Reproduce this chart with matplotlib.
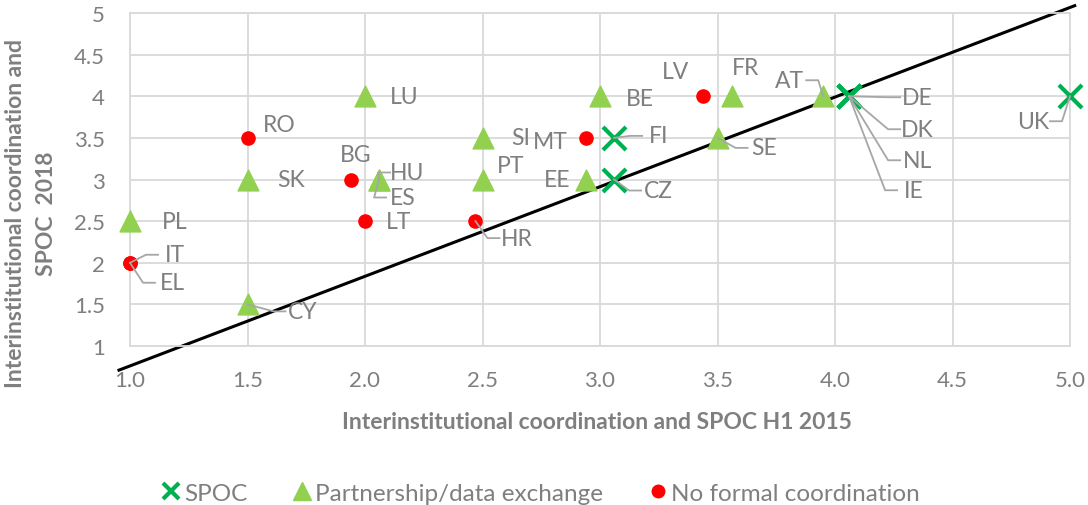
import matplotlib
matplotlib.use("Agg")
import matplotlib.pyplot as plt
import matplotlib.transforms as mtransforms
from matplotlib.lines import Line2D

plt.rcParams['font.family'] = ['Lato', 'DejaVu Sans']

# ---- data: (label, x 2015, y 2018)
spoc_labels = ["FI", "CZ", "DE", "DK", "NL", "IE", "UK"]
spoc_x = [3.06, 3.06, 4.06, 4.06, 4.06, 4.06, 5.0]
spoc_y = [3.5, 3.0, 4.0, 4.0, 4.0, 4.0, 4.0]

part_labels = ["PL", "SK", "CY", "LU", "HU", "ES", "SI", "PT", "BE", "EE", "FR", "AT", "SE"]
part_x = [1.0, 1.5, 1.5, 2.0, 2.06, 2.06, 2.5, 2.5, 3.0, 2.94, 3.56, 3.95, 3.5]
part_y = [2.5, 3.0, 1.5, 4.0, 3.0, 3.0, 3.5, 3.0, 4.0, 3.0, 4.0, 4.0, 3.5]

nofc_labels = ["RO", "BG", "LT", "HR", "MT", "LV", "IT", "EL"]
nofc_x = [1.5, 1.94, 2.0, 2.47, 2.94, 3.44, 1.0, 1.0]
nofc_y = [3.5, 3.0, 2.5, 2.5, 3.5, 4.0, 2.0, 2.0]

# reference line endpoints
line_x = [0.953, 5.02]
line_y = [0.71, 5.088]

x_ticks = [1.0, 1.5, 2.0, 2.5, 3.0, 3.5, 4.0, 4.5, 5.0]
y_ticks = [1, 1.5, 2, 2.5, 3, 3.5, 4, 4.5, 5]

# label offsets in pixels (dx, dy) and whether a leader line is drawn
label_pos = {
    "RO": (32, 13, False), "SK": (44, 0, False), "PL": (45, 0, False),
    "IT": (45, 8, True), "EL": (42, -20, True), "CY": (55, -7, True),
    "LU": (39, 0, False), "BG": (5, 25, False), "HU": (28, 7, True),
    "ES": (24, -18, True), "LT": (34, 0, False), "SI": (38, 0, False),
    "MT": (-36, -4, False), "PT": (28, 14, False), "HR": (41, -17, True),
    "EE": (-29, 0, False), "FI": (45, 2, True), "CZ": (44, -11, True),
    "BE": (40, -2, False), "LV": (-28, 25, False), "FR": (14, 29, False),
    "AT": (-34, 16, True), "SE": (47, -10, True), "DE": (68, -1, True),
    "DK": (68, -33, True), "NL": (68, -64, True), "IE": (65, -94, True),
    "UK": (-37, -25, True),
}

GRAY = "#7f7f7f"
GRID = "#d9d9d9"

fig = plt.figure(figsize=(10.88, 5.06), dpi=100)
ax = fig.add_axes([130 / 1088, 1 - 347 / 506, 940 / 1088, 333 / 506])

ax.set_xlim(1.0, 5.0)
ax.set_ylim(1, 5)
ax.set_xticks(x_ticks)
ax.set_xticklabels([f"{v:.1f}" for v in x_ticks])
ax.set_yticks(y_ticks)
ax.set_yticklabels([f"{v:g}" for v in y_ticks])
ax.grid(True, color=GRID, linewidth=1.3)
ax.set_axisbelow(True)
for s in ax.spines.values():
    s.set_color(GRID)
    s.set_linewidth(1.3)
ax.tick_params(length=0, labelsize=16, colors=GRAY)
ax.tick_params(axis="x", pad=17)
ax.tick_params(axis="y", pad=18)

ax.plot(line_x, line_y, color="black", lw=2.2, clip_on=False, zorder=2)

ax.scatter(part_x, part_y, marker="^", s=225, color="#92d050", zorder=3, clip_on=False)
ax.scatter(nofc_x, nofc_y, marker="o", s=90, color="#ff0000", zorder=4, clip_on=False)
ax.scatter(spoc_x, spoc_y, marker="x", s=275, color="#00b050", linewidths=3, zorder=5, clip_on=False)

for labels, xs, ys in [(spoc_labels, spoc_x, spoc_y), (part_labels, part_x, part_y),
                       (nofc_labels, nofc_x, nofc_y)]:
    for lab, x, y in zip(labels, xs, ys):
        dx, dy, leader = label_pos[lab]
        ax.annotate(lab, (x, y), xytext=(dx, dy), textcoords="offset pixels",
                    ha="center", va="center", fontsize=16.5, color=GRAY,
                    zorder=7, annotation_clip=False)
        if leader:
            # Excel-style leader: short horizontal stub at the label, then to the point
            sgn = 1 if dx > 0 else -1
            tr = mtransforms.IdentityTransform() + mtransforms.ScaledTranslation(x, y, ax.transData)
            ln = Line2D([dx - sgn * 17, dx - sgn * 29, 0], [dy, dy, 0], transform=tr,
                        color="#a6a6a6", lw=1.3, clip_on=False, zorder=6)
            ax.add_artist(ln)

fig.text(597 / 1088, 1 - 423 / 506, "Interinstitutional coordination and SPOC H1 2015",
         ha="center", va="center", fontsize=16.5, fontweight="bold", color=GRAY)
fig.text(31 / 1088, 1 - 214 / 506, "Interinstitutional coordination and\nSPOC  2018",
         ha="center", va="center", rotation=90, fontsize=16.5, fontweight="bold",
         color=GRAY, multialignment="center", linespacing=1.6)

handles = [
    Line2D([], [], marker="x", ls="", color="#00b050", markersize=12, markeredgewidth=3),
    Line2D([], [], marker="^", ls="", color="#92d050", markersize=13),
    Line2D([], [], marker="o", ls="", color="#ff0000", markersize=9),
]
fig.legend(handles, ["SPOC", "Partnership/data exchange", "No formal coordination"],
           loc="center", bbox_to_anchor=(541 / 1088, 1 - 494 / 506), ncol=3, frameon=False,
           fontsize=17.5, labelcolor=GRAY, handlelength=0.7, handletextpad=0.2,
           columnspacing=1.9)

fig.savefig("out.png", dpi=100)
